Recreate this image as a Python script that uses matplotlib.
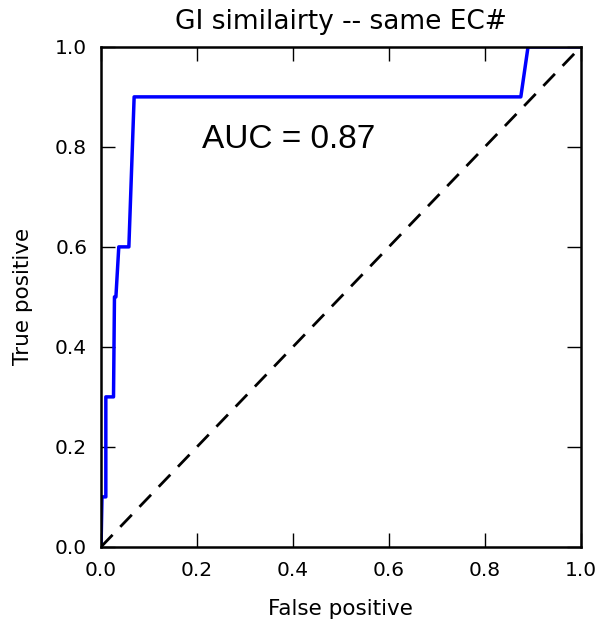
import matplotlib
matplotlib.use("Agg")
import matplotlib.pyplot as plt

# ROC curve points
fpr = [0.0, 0.002, 0.010, 0.010, 0.026, 0.028, 0.031, 0.037, 0.058, 0.069, 0.875, 0.890, 1.0]
tpr = [0.0, 0.100, 0.100, 0.300, 0.300, 0.500, 0.500, 0.600, 0.600, 0.900, 0.900, 1.000, 1.0]
auc = 0.87

chance = [0.0, 1.0]

fig = plt.figure(figsize=(6.05, 6.25), dpi=100)
ax = fig.add_axes([0.167, 0.125, 0.793, 0.80])

ax.plot(fpr, tpr, color="b", lw=2.5)
ax.plot(chance, chance, color="k", lw=2, dashes=(6, 4))

ax.text(0.21, 0.815, "AUC = %.2f" % auc, fontsize=24, va="center",
        family="Liberation Sans")

ax.set_xlim(0, 1)
ax.set_ylim(0, 1)
ax.set_xticks([0, 0.2, 0.4, 0.6, 0.8, 1.0])
ax.set_yticks([0, 0.2, 0.4, 0.6, 0.8, 1.0])
ax.tick_params(direction="in", top=True, right=True, length=10, width=1, labelsize=14.5, pad=10)
for s in ax.spines.values():
    s.set_linewidth(1.8)

ax.set_xlabel("False positive", fontsize=15.5, labelpad=14)
ax.set_ylabel("True positive", fontsize=15.5, labelpad=16)
ax.set_title("GI similairty -- same EC#", fontsize=19, pad=13)

fig.savefig("out.png", dpi=100)
